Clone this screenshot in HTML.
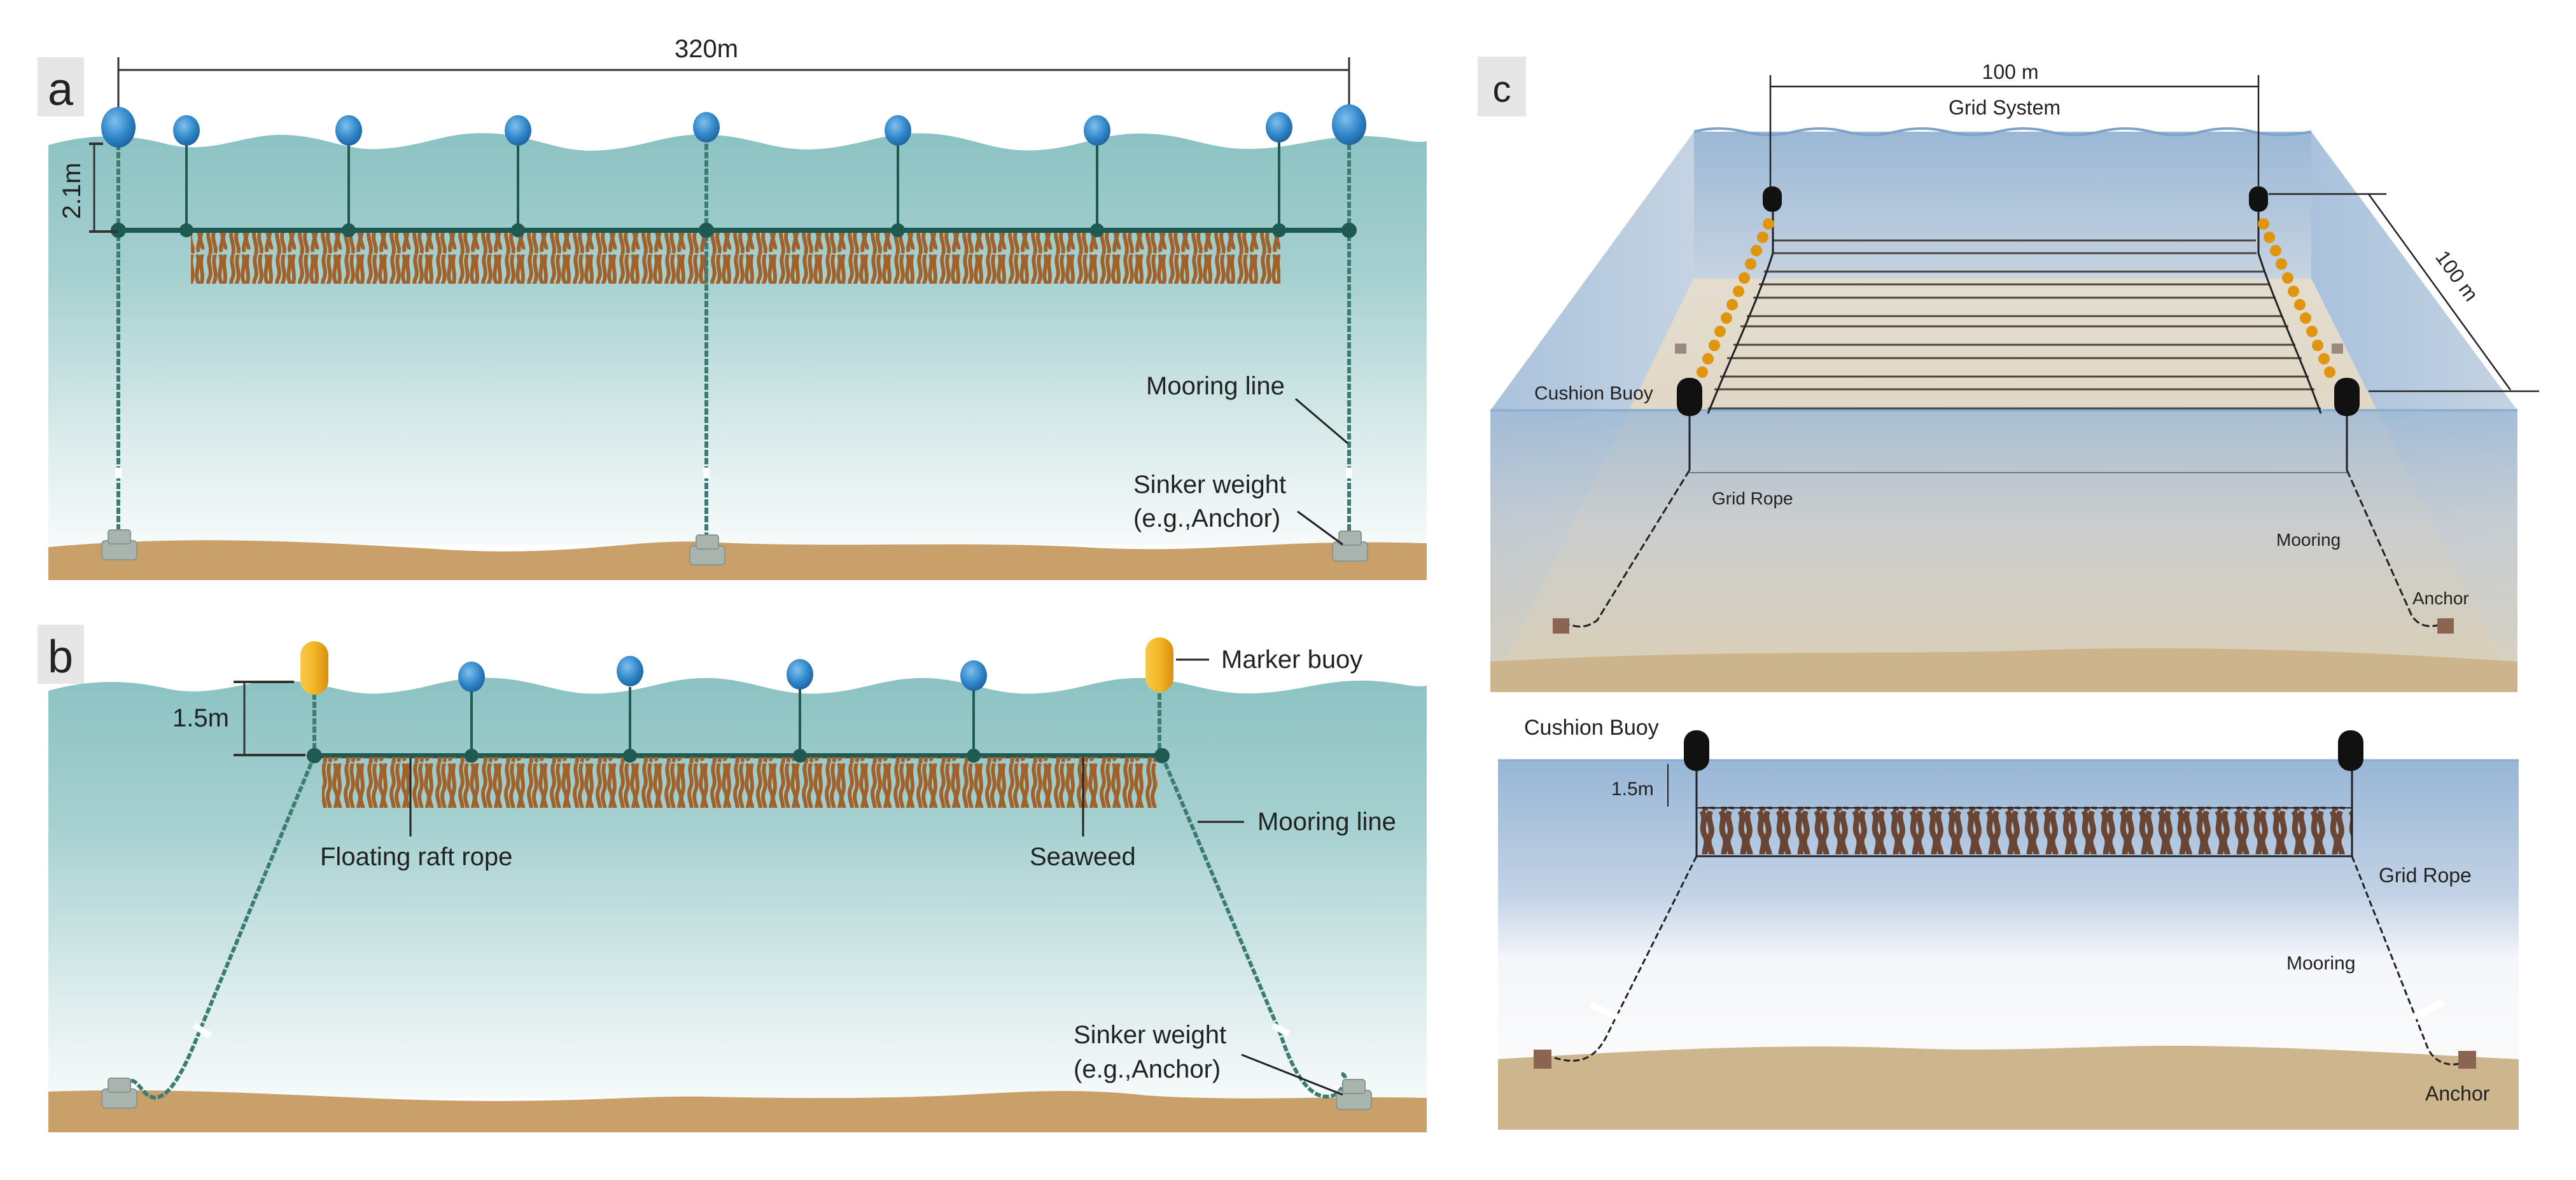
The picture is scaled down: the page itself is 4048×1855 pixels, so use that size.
<!DOCTYPE html>
<html><head><meta charset="utf-8"><style>
html,body{margin:0;padding:0;background:#fff}
svg{display:block}
text{font-family:"Liberation Sans Narrow","Liberation Sans",sans-serif;fill:#222}
.c text{font-family:"Liberation Sans",sans-serif}
</style></head><body>
<svg width="4048" height="1855" viewBox="0 0 4048 1855" xmlns="http://www.w3.org/2000/svg">
<defs>
<linearGradient id="wa" x1="0" y1="0" x2="0" y2="1">
<stop offset="0" stop-color="#8cc2c3"/><stop offset="0.35" stop-color="#a6d0d0"/><stop offset="0.75" stop-color="#dcecec"/><stop offset="1" stop-color="#f6fafa"/></linearGradient>
<radialGradient id="bb" cx="0.4" cy="0.35" r="0.7"><stop offset="0" stop-color="#7fc0ee"/><stop offset="0.6" stop-color="#2f86c8"/><stop offset="1" stop-color="#1d5f9c"/></radialGradient>
<linearGradient id="yb" x1="0" y1="0" x2="1" y2="0"><stop offset="0" stop-color="#f7c84a"/><stop offset="0.5" stop-color="#f4b527"/><stop offset="1" stop-color="#d78f10"/></linearGradient>
<pattern id="sw" x="0" y="0" width="36" height="80" patternUnits="userSpaceOnUse">
<path d="M6 0 C0 15 12 25 4 40 C0 55 10 65 6 80 M14 0 C8 18 20 28 12 45 C8 60 18 68 14 78 M22 0 C28 15 16 30 24 45 C30 58 20 66 24 76 M30 0 C24 18 34 30 28 48 C24 60 32 66 30 72" stroke="#a0622a" stroke-width="6" fill="none"/>
</pattern>
<linearGradient id="cb" x1="0" y1="0" x2="0" y2="1"><stop offset="0" stop-color="#9bb8d6"/><stop offset="1" stop-color="#c6d3e0"/></linearGradient>
<linearGradient id="cf" x1="0" y1="0" x2="0" y2="1"><stop offset="0" stop-color="#e4ddcf"/><stop offset="1" stop-color="#d9cbb0"/></linearGradient>
<linearGradient id="cfront" x1="0" y1="0" x2="0" y2="1"><stop offset="0" stop-color="#9fbad6"/><stop offset="0.4" stop-color="#c7ccd0"/><stop offset="1" stop-color="#ddd0b6"/></linearGradient>
<linearGradient id="cside" x1="0" y1="0" x2="1" y2="0"><stop offset="0" stop-color="#a9c2dc"/><stop offset="1" stop-color="#c5d3e2"/></linearGradient>
<linearGradient id="c2" x1="0" y1="0" x2="0" y2="1"><stop offset="0" stop-color="#97b6d6"/><stop offset="0.45" stop-color="#c4d3e6"/><stop offset="0.65" stop-color="#f4f6fa"/><stop offset="1" stop-color="#fbfbfb"/></linearGradient>
<pattern id="sw2" x="0" y="0" width="30" height="75" patternUnits="userSpaceOnUse">
<path d="M4 0 C14 12 0 25 10 40 C16 52 6 62 10 75 M18 0 C10 14 26 26 16 42 C12 54 22 62 20 72" stroke="#6b4533" stroke-width="9" fill="none"/>
</pattern>
</defs>

<!-- ===== Panel a ===== -->
<rect x="59" y="90" width="73" height="93" fill="#e6e6e6"/>
<text x="95" y="165" font-size="72" text-anchor="middle" style="font-family:'Liberation Sans',sans-serif">a</text>
<line x1="186" y1="110" x2="2120" y2="110" stroke="#333" stroke-width="3"/>
<line x1="186" y1="90" x2="186" y2="175" stroke="#333" stroke-width="3"/>
<line x1="2120" y1="90" x2="2120" y2="175" stroke="#333" stroke-width="3"/>
<text x="1110" y="90" font-size="40" text-anchor="middle">320m</text>
<path d="M76 228 C140 210 200 210 260 226 C330 244 380 212 440 212 C510 212 540 238 600 234 C680 228 700 205 780 210 C850 216 880 242 950 236 C1020 230 1050 208 1120 212 C1190 216 1220 240 1290 234 C1360 228 1390 206 1460 210 C1530 214 1560 240 1630 236 C1700 232 1730 208 1800 210 C1870 212 1900 236 1970 234 C2040 232 2080 212 2150 214 C2200 216 2220 226 2242 222 L2242 856 L76 856 Z" fill="url(#wa)"/>
<path d="M76 860 C300 840 500 852 700 864 C900 876 1000 846 1110 852 C1300 862 1500 850 1700 860 C1900 872 2000 846 2242 854 L2242 912 L76 912 Z" fill="#c9a06a"/>
<!-- raft -->
<line x1="186" y1="362" x2="2120" y2="362" stroke="#1f5a52" stroke-width="8"/>
<rect x="300" y="366" width="1712" height="80" fill="url(#sw)"/>
<!-- mooring lines -->
<g stroke="#3c7c74" stroke-width="6" stroke-dasharray="10 3">
<line x1="186" y1="226" x2="186" y2="840"/><line x1="1110" y1="226" x2="1110" y2="850"/><line x1="2120" y1="226" x2="2120" y2="845"/>
</g>
<g stroke="#fff" stroke-width="10"><line x1="186" y1="735" x2="186" y2="752"/><line x1="1110" y1="735" x2="1110" y2="752"/><line x1="2120" y1="735" x2="2120" y2="752"/></g>
<g stroke="#1f5a52" stroke-width="4">
<line x1="293" y1="220" x2="293" y2="362"/><line x1="548" y1="220" x2="548" y2="362"/><line x1="814" y1="220" x2="814" y2="362"/><line x1="1411" y1="220" x2="1411" y2="362"/><line x1="1724" y1="220" x2="1724" y2="362"/><line x1="2010" y1="220" x2="2010" y2="362"/>
</g>
<g fill="#1f5a52"><circle cx="186" cy="362" r="12"/><circle cx="293" cy="362" r="11"/><circle cx="548" cy="362" r="11"/><circle cx="814" cy="362" r="11"/><circle cx="1110" cy="362" r="12"/><circle cx="1411" cy="362" r="11"/><circle cx="1724" cy="362" r="11"/><circle cx="2010" cy="362" r="11"/><circle cx="2120" cy="362" r="12"/></g>
<g fill="url(#bb)">
<ellipse cx="186" cy="200" rx="27" ry="32"/><ellipse cx="293" cy="205" rx="21" ry="24"/><ellipse cx="548" cy="205" rx="21" ry="24"/><ellipse cx="814" cy="205" rx="21" ry="24"/><ellipse cx="1110" cy="200" rx="21" ry="24"/><ellipse cx="1411" cy="205" rx="21" ry="24"/><ellipse cx="1724" cy="205" rx="21" ry="24"/><ellipse cx="2010" cy="200" rx="21" ry="24"/><ellipse cx="2120" cy="196" rx="27" ry="32"/>
</g>
<!-- anchors -->
<g fill="#a9b4ae" stroke="#8a958f" stroke-width="2">
<rect x="160" y="850" width="55" height="30" rx="6"/><rect x="170" y="833" width="35" height="22" rx="4"/>
<rect x="1084" y="858" width="55" height="30" rx="6"/><rect x="1094" y="841" width="35" height="22" rx="4"/>
<rect x="2094" y="852" width="55" height="30" rx="6"/><rect x="2104" y="835" width="35" height="22" rx="4"/>
</g>
<!-- 2.1m -->
<line x1="148" y1="226" x2="148" y2="364" stroke="#333" stroke-width="3"/>
<line x1="140" y1="226" x2="162" y2="226" stroke="#333" stroke-width="4"/>
<line x1="140" y1="364" x2="185" y2="364" stroke="#333" stroke-width="4"/>
<text x="0" y="0" font-size="40" transform="translate(126,300) rotate(-90)" text-anchor="middle" style="font-family:'Liberation Sans',sans-serif">2.1m</text>
<text x="1801" y="620" font-size="40">Mooring line</text>
<line x1="2036" y1="627" x2="2118" y2="697" stroke="#222" stroke-width="3"/>
<text x="1781" y="775" font-size="40">Sinker weight</text>
<text x="1781" y="828" font-size="40">(e.g.,Anchor)</text>
<line x1="2039" y1="804" x2="2110" y2="856" stroke="#222" stroke-width="3"/>

<!-- ===== Panel b ===== -->
<rect x="59" y="982" width="73" height="93" fill="#e6e6e6"/>
<text x="95" y="1057" font-size="72" text-anchor="middle" style="font-family:'Liberation Sans',sans-serif">b</text>
<path d="M76 1086 C140 1068 200 1068 260 1082 C330 1098 380 1070 440 1070 C510 1070 540 1094 600 1090 C680 1084 700 1062 780 1066 C850 1070 880 1094 950 1090 C1020 1086 1050 1064 1120 1066 C1190 1070 1220 1094 1290 1090 C1360 1086 1390 1064 1460 1066 C1530 1070 1560 1094 1630 1090 C1700 1086 1730 1064 1800 1066 C1870 1070 1900 1092 1970 1090 C2040 1088 2080 1068 2150 1070 C2200 1072 2220 1082 2242 1078 L2242 1726 L76 1726 Z" fill="url(#wa)"/>
<path d="M76 1716 C300 1708 500 1726 700 1730 C900 1734 1000 1722 1110 1724 C1300 1728 1400 1726 1500 1722 C1600 1716 1700 1710 1800 1722 C1950 1732 2100 1722 2242 1726 L2242 1780 L76 1780 Z" fill="#c9a06a"/>
<line x1="494" y1="1188" x2="1826" y2="1188" stroke="#1f5a52" stroke-width="8"/>
<rect x="506" y="1190" width="1313" height="80" fill="url(#sw)"/>
<g stroke="#3c7c74" stroke-width="6" stroke-dasharray="10 3" fill="none">
<line x1="494" y1="1090" x2="494" y2="1188"/><line x1="1822" y1="1090" x2="1822" y2="1188"/>
<path d="M494 1188 L312 1625 C290 1680 260 1745 230 1720 C215 1705 210 1690 195 1705"/>
<path d="M1826 1188 L2012 1625 C2030 1680 2060 1740 2100 1720 C2115 1708 2118 1690 2108 1688"/>
</g>
<g stroke="#fff" stroke-width="10"><line x1="305" y1="1612" x2="330" y2="1628"/><line x1="2000" y1="1612" x2="2025" y2="1625"/></g>
<g stroke="#1f5a52" stroke-width="4"><line x1="741" y1="1080" x2="741" y2="1188"/><line x1="990" y1="1080" x2="990" y2="1188"/><line x1="1257" y1="1080" x2="1257" y2="1188"/><line x1="1530" y1="1080" x2="1530" y2="1188"/></g>
<g fill="#1f5a52"><circle cx="494" cy="1188" r="12"/><circle cx="741" cy="1188" r="11"/><circle cx="990" cy="1188" r="11"/><circle cx="1257" cy="1188" r="11"/><circle cx="1530" cy="1188" r="11"/><circle cx="1826" cy="1188" r="12"/></g>
<g fill="url(#bb)"><ellipse cx="741" cy="1064" rx="21" ry="24"/><ellipse cx="990" cy="1055" rx="21" ry="24"/><ellipse cx="1257" cy="1060" rx="21" ry="24"/><ellipse cx="1530" cy="1062" rx="21" ry="24"/></g>
<rect x="472" y="1008" width="44" height="84" rx="22" fill="url(#yb)"/>
<rect x="1800" y="1002" width="44" height="86" rx="22" fill="url(#yb)"/>
<g fill="#a9b4ae" stroke="#8a958f" stroke-width="2">
<rect x="160" y="1712" width="55" height="30" rx="6"/><rect x="170" y="1695" width="35" height="22" rx="4"/>
<rect x="2100" y="1714" width="55" height="30" rx="6"/><rect x="2110" y="1697" width="35" height="22" rx="4"/>
</g>
<line x1="384" y1="1072" x2="384" y2="1187" stroke="#333" stroke-width="3"/>
<line x1="367" y1="1072" x2="462" y2="1072" stroke="#333" stroke-width="4"/>
<line x1="367" y1="1187" x2="480" y2="1187" stroke="#333" stroke-width="4"/>
<text x="271" y="1142" font-size="40">1.5m</text>
<line x1="1848" y1="1037" x2="1900" y2="1037" stroke="#222" stroke-width="3"/>
<text x="1919" y="1050" font-size="40">Marker buoy</text>
<line x1="645" y1="1191" x2="645" y2="1315" stroke="#222" stroke-width="3"/>
<text x="503" y="1360" font-size="40">Floating raft rope</text>
<line x1="1702" y1="1191" x2="1702" y2="1315" stroke="#222" stroke-width="3"/>
<text x="1618" y="1360" font-size="40">Seaweed</text>
<line x1="1882" y1="1292" x2="1955" y2="1292" stroke="#222" stroke-width="3"/>
<text x="1976" y="1305" font-size="40">Mooring line</text>
<text x="1687" y="1640" font-size="40">Sinker weight</text>
<text x="1687" y="1694" font-size="40">(e.g.,Anchor)</text>
<line x1="1951" y1="1658" x2="2110" y2="1721" stroke="#222" stroke-width="3"/>

<!-- ===== Panel c ===== -->
<g class="c">
<rect x="2322" y="89" width="76" height="94" fill="#e6e6e6"/>
<text x="2360" y="160" font-size="58" text-anchor="middle">c</text>
<!-- side walls -->
<polygon points="2662,207 2342,645 2342,1088 2662,438" fill="url(#cside)"/>
<polygon points="3632,207 3956,645 3956,1088 3632,438" fill="url(#cside)"/>
<!-- back wall -->
<rect x="2662" y="207" width="970" height="231" fill="url(#cb)"/>
<path d="M2662 207 Q2700 197 2740 207 T2820 207 T2900 207 T2980 207 T3060 207 T3140 207 T3220 207 T3300 207 T3380 207 T3460 207 T3540 207 T3632 207" stroke="#7fa3c7" stroke-width="4" fill="none"/>
<!-- floor -->
<polygon points="2662,438 3632,438 3956,1088 2342,1088" fill="url(#cf)"/>
<!-- front face -->
<rect x="2342" y="645" width="1614" height="443" fill="url(#cfront)" opacity="0.85"/>
<path d="M2342 1040 C2700 1020 3000 1030 3200 1022 C3500 1012 3800 1030 3956 1040 L3956 1088 L2342 1088 Z" fill="#ccb58d"/>
<line x1="2342" y1="645" x2="3956" y2="645" stroke="#8eb0cf" stroke-width="4"/>
<!-- grid lines -->
<g stroke="#4a4440" stroke-width="3">
<line x1="2786" y1="378" x2="3545" y2="378"/><line x1="2785" y1="398" x2="3546" y2="398"/><line x1="2772" y1="427" x2="3559" y2="427"/><line x1="2764" y1="447" x2="3567" y2="447"/><line x1="2755" y1="468" x2="3576" y2="468"/><line x1="2745" y1="497" x2="3586" y2="497"/><line x1="2735" y1="513" x2="3596" y2="513"/><line x1="2724" y1="542" x2="3607" y2="542"/><line x1="2714" y1="563" x2="3617" y2="563"/><line x1="2703" y1="592" x2="3628" y2="592"/><line x1="2694" y1="612" x2="3637" y2="612"/><line x1="2684" y1="642" x2="3647" y2="642"/>
<line x1="2655" y1="743" x2="3688" y2="743" stroke="#777" stroke-width="2"/>
</g>
<g stroke="#222" stroke-width="3" fill="none">
<path d="M2786 330 L2786 398 C2760 480 2720 560 2684 650"/>
<path d="M3549 330 L3549 398 C3575 480 3615 560 3647 650"/>
<line x1="2655" y1="640" x2="2655" y2="739"/><line x1="3688" y1="640" x2="3688" y2="739"/>
<path d="M2655 739 L2510 975 C2490 990 2475 985 2460 980" stroke-dasharray="12 5"/>
<path d="M3688 739 L3790 968 C3805 990 3825 985 3842 980" stroke-dasharray="12 5"/>
</g>
<g fill="#e0950f">
<circle cx="2779" cy="352" r="9"/><circle cx="2770" cy="373" r="9"/><circle cx="2760" cy="394" r="9"/><circle cx="2751" cy="415" r="9"/><circle cx="2741" cy="437" r="9"/><circle cx="2732" cy="458" r="9"/><circle cx="2722" cy="479" r="9"/><circle cx="2713" cy="500" r="9"/><circle cx="2703" cy="521" r="9"/><circle cx="2694" cy="543" r="9"/><circle cx="2684" cy="564" r="9"/><circle cx="2675" cy="585" r="9"/>
<circle cx="3557" cy="352" r="9"/><circle cx="3566" cy="373" r="9"/><circle cx="3576" cy="394" r="9"/><circle cx="3585" cy="415" r="9"/><circle cx="3595" cy="437" r="9"/><circle cx="3604" cy="458" r="9"/><circle cx="3614" cy="479" r="9"/><circle cx="3623" cy="500" r="9"/><circle cx="3633" cy="521" r="9"/><circle cx="3642" cy="543" r="9"/><circle cx="3652" cy="564" r="9"/><circle cx="3661" cy="585" r="9"/>
</g>
<g fill="#111"><rect x="2770" y="293" width="30" height="40" rx="14"/><rect x="3534" y="293" width="30" height="40" rx="14"/><rect x="2635" y="594" width="40" height="60" rx="18"/><rect x="3668" y="594" width="40" height="60" rx="18"/></g>
<g fill="#8b6552"><rect x="2440" y="972" width="26" height="24"/><rect x="3830" y="972" width="26" height="24"/><rect x="2632" y="540" width="18" height="16" fill="#9a8a80"/><rect x="3664" y="540" width="18" height="16" fill="#9a8a80"/></g>
<!-- dimensions -->
<g stroke="#222" stroke-width="2.5"><line x1="2782" y1="136" x2="3549" y2="136"/><line x1="2782" y1="118" x2="2782" y2="296"/><line x1="3549" y1="118" x2="3549" y2="296"/>
<line x1="3565" y1="305" x2="3750" y2="305"/><line x1="3722" y1="305" x2="3945" y2="613"/><line x1="3722" y1="615" x2="3990" y2="615"/></g>
<text x="3159" y="124" font-size="32" text-anchor="middle">100 m</text>
<text x="3150" y="180" font-size="32" text-anchor="middle">Grid System</text>
<text x="0" y="0" font-size="32" text-anchor="middle" transform="translate(3852,440) rotate(54)">100 m</text>
<text x="2411" y="628" font-size="30">Cushion Buoy</text>
<text x="2690" y="793" font-size="28">Grid Rope</text>
<text x="3577" y="858" font-size="28">Mooring</text>
<text x="3791" y="950" font-size="28">Anchor</text>

<!-- bottom c -->
<text x="2395" y="1155" font-size="34">Cushion Buoy</text>
<rect x="2354" y="1195" width="1604" height="480" fill="url(#c2)"/>
<path d="M2354 1665 C2600 1650 2800 1640 3000 1648 C3200 1655 3300 1640 3500 1645 C3700 1650 3850 1660 3958 1665 L3958 1776 L2354 1776 Z" fill="#cdb58e"/>
<line x1="2354" y1="1195" x2="3958" y2="1195" stroke="#8cadd0" stroke-width="3"/>
<rect x="2666" y="1268" width="1030" height="75" fill="url(#sw2)"/>
<g stroke="#222" stroke-width="3" fill="none">
<line x1="2666" y1="1180" x2="2666" y2="1346"/><line x1="3696" y1="1180" x2="3696" y2="1346"/>
<line x1="2666" y1="1346" x2="3696" y2="1346"/><line x1="2666" y1="1270" x2="3696" y2="1270" stroke-width="2"/>
<path d="M2666 1346 L2523 1632 C2505 1665 2480 1675 2440 1662" stroke-dasharray="10 5"/>
<path d="M3696 1346 L3816 1650 C3830 1675 3855 1678 3878 1668" stroke-dasharray="10 5"/>
<line x1="2621" y1="1201" x2="2621" y2="1268" stroke-width="2"/>
</g>
<g stroke="#fff" stroke-width="10"><line x1="2500" y1="1580" x2="2545" y2="1600"/><line x1="3790" y1="1600" x2="3840" y2="1575"/></g>
<g fill="#111"><rect x="2646" y="1148" width="40" height="64" rx="19"/><rect x="3674" y="1148" width="40" height="64" rx="19"/></g>
<g fill="#8b6552"><rect x="2410" y="1650" width="28" height="30"/><rect x="3863" y="1652" width="28" height="28"/></g>
<text x="2532" y="1250" font-size="30">1.5m</text>
<text x="3738" y="1387" font-size="32">Grid Rope</text>
<text x="3593" y="1524" font-size="30">Mooring</text>
<text x="3811" y="1730" font-size="32">Anchor</text>
</g>
</svg>
</body></html>
